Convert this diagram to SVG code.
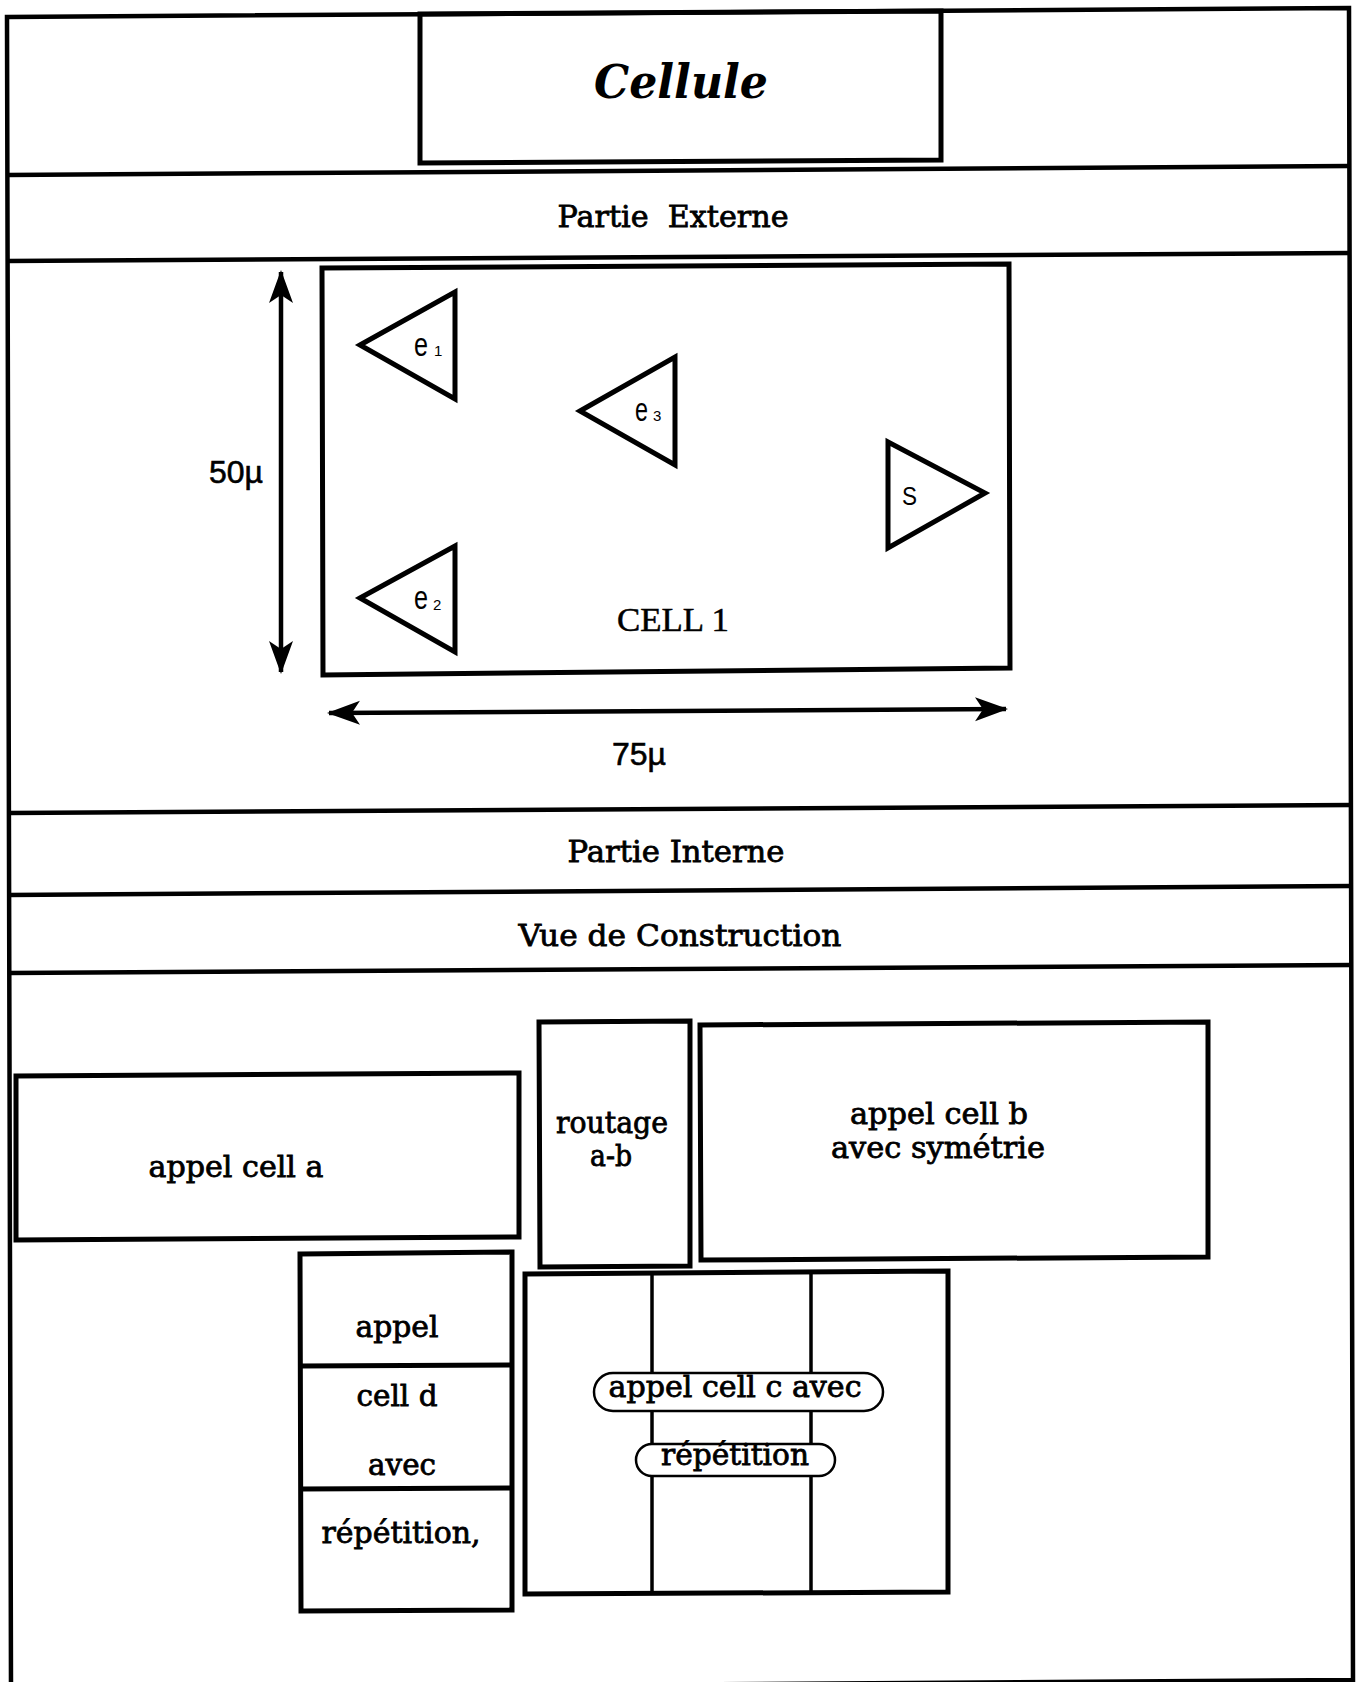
<svg xmlns="http://www.w3.org/2000/svg" width="1360" height="1682" viewBox="0 0 1360 1682">
<style>
.ln{fill:none;stroke:#000;stroke-width:5;stroke-linejoin:miter}
.fr{fill:none;stroke:#000;stroke-width:4.5}
.thin{fill:none;stroke:#000;stroke-width:3.5}
.pill{fill:#fff;stroke:#000;stroke-width:2.5}
.lbl{font-family:"DejaVu Serif","Liberation Serif",serif;font-size:30px;fill:#000;text-anchor:middle;stroke:#000;stroke-width:0.8}
.sans{font-family:"Liberation Sans","DejaVu Sans",sans-serif;fill:#000}
.sub{font-family:"Liberation Sans","DejaVu Sans",sans-serif;font-size:15px;fill:#000}
</style>
<defs>
<marker id="arr" markerUnits="userSpaceOnUse" markerWidth="36" markerHeight="28" viewBox="0 -14 36 28" refX="31" refY="0" orient="auto-start-reverse">
<path d="M0,-12 L33,0 L0,12 L8,0 Z" fill="#000"/>
</marker>
</defs>
<rect width="1360" height="1682" fill="#fff"/>

<g id="frame">
<polygon class="fr" points="7,17 1349,8 1353,1680 11,1689"/>
<line class="fr" x1="7" y1="175" x2="1350" y2="166"/>
<line class="fr" x1="7" y1="261" x2="1350" y2="253"/>
<line class="fr" x1="8" y1="813" x2="1352" y2="805"/>
<line class="fr" x1="8" y1="895" x2="1352" y2="886"/>
<line class="fr" x1="8" y1="973" x2="1352" y2="965"/>
</g>

<g id="title">
<polygon class="ln" points="420,14 941,11 941,160 420,163"/>
<text x="681" y="98" font-family="DejaVu Serif, Liberation Serif, serif" font-size="46" font-weight="bold" font-style="italic" text-anchor="middle" textLength="174" lengthAdjust="spacingAndGlyphs">Cellule</text>
</g>

<g id="partie-externe">
<text class="lbl" x="673" y="227" style="white-space:pre" textLength="231" lengthAdjust="spacingAndGlyphs">Partie  Externe</text>
</g>

<g id="cell1">
<polygon class="ln" points="322,268 1009,264 1010,668 323,675"/>
<text x="673" y="631" font-family="Liberation Serif, serif" font-size="34" text-anchor="middle" stroke="#000" stroke-width="0.5" textLength="112" lengthAdjust="spacingAndGlyphs">CELL 1</text>
</g>

<g id="e1">
<polygon class="ln" points="360,345 455,292 455,399"/>
<text class="sans" x="414" y="356" font-size="33" textLength="14" lengthAdjust="spacingAndGlyphs">e</text>
<text class="sub" x="434" y="356">1</text>
</g>
<g id="e3">
<polygon class="ln" points="580,411 675,357 675,465"/>
<text class="sans" x="635" y="421" font-size="33" textLength="13" lengthAdjust="spacingAndGlyphs">e</text>
<text class="sub" x="653" y="421">3</text>
</g>
<g id="e2">
<polygon class="ln" points="360,598 455,546 455,652"/>
<text class="sans" x="414" y="609" font-size="33" textLength="14" lengthAdjust="spacingAndGlyphs">e</text>
<text class="sub" x="433" y="610">2</text>
</g>
<g id="s">
<polygon class="ln" points="888,442 985,493 888,548"/>
<text class="sans" x="902" y="505" font-size="25" textLength="15" lengthAdjust="spacingAndGlyphs">S</text>
</g>

<g id="connectors">
<line x1="281" y1="272" x2="281" y2="672" stroke="#000" stroke-width="4.5" marker-start="url(#arr)" marker-end="url(#arr)"/>
<line x1="329" y1="713" x2="1006" y2="709" stroke="#000" stroke-width="4.5" marker-start="url(#arr)" marker-end="url(#arr)"/>
</g>

<g id="dim-50">
<text class="sans" x="209" y="483" font-size="32" stroke="#000" stroke-width="0.6" textLength="54" lengthAdjust="spacingAndGlyphs">50µ</text>
</g>
<g id="dim-75">
<text class="sans" x="612" y="765" font-size="32" stroke="#000" stroke-width="0.6" textLength="54" lengthAdjust="spacingAndGlyphs">75µ</text>
</g>

<g id="partie-interne">
<text class="lbl" x="676" y="862" textLength="217" lengthAdjust="spacingAndGlyphs">Partie Interne</text>
</g>
<g id="vue-construction">
<text class="lbl" x="680" y="946" textLength="323" lengthAdjust="spacingAndGlyphs">Vue de Construction</text>
</g>

<g id="cell-a">
<polygon class="ln" points="16,1076 519,1073 519,1237 16,1240"/>
<text class="lbl" x="236" y="1177" textLength="175" lengthAdjust="spacingAndGlyphs">appel cell a</text>
</g>

<g id="routage">
<polygon class="ln" points="539,1022 690,1021 690,1266 540,1267"/>
<text class="lbl" x="612" y="1133" textLength="112" lengthAdjust="spacingAndGlyphs">routage</text>
<text class="lbl" x="611" y="1166" textLength="42" lengthAdjust="spacingAndGlyphs">a-b</text>
</g>

<g id="cell-b">
<polygon class="ln" points="700,1025 1208,1022 1208,1257 701,1260"/>
<text class="lbl" x="939" y="1124" textLength="178" lengthAdjust="spacingAndGlyphs">appel cell b</text>
<text class="lbl" x="938" y="1158" textLength="214" lengthAdjust="spacingAndGlyphs">avec symétrie</text>
</g>

<g id="cell-d">
<polygon class="ln" points="300,1254 512,1252 512,1610 301,1611"/>
<line class="ln" x1="300" y1="1366" x2="512" y2="1365"/>
<line class="ln" x1="300" y1="1489" x2="512" y2="1488"/>
<text class="lbl" x="397" y="1337" textLength="83" lengthAdjust="spacingAndGlyphs">appel</text>
<text class="lbl" x="397" y="1406" textLength="81" lengthAdjust="spacingAndGlyphs">cell d</text>
<text class="lbl" x="402" y="1475" textLength="68" lengthAdjust="spacingAndGlyphs">avec</text>
<text class="lbl" x="401" y="1543" textLength="159" lengthAdjust="spacingAndGlyphs">répétition,</text>
</g>

<g id="cell-c">
<polygon class="ln" points="525,1274 948,1271 948,1592 525,1594"/>
<line class="thin" x1="652" y1="1273" x2="652" y2="1593"/>
<line class="thin" x1="811" y1="1272" x2="811" y2="1592"/>
<rect class="pill" x="594" y="1373" width="289" height="38" rx="19"/>
<rect class="pill" x="636" y="1444" width="199" height="32" rx="16"/>
<text class="lbl" x="735" y="1397" textLength="253" lengthAdjust="spacingAndGlyphs">appel cell c avec</text>
<text class="lbl" x="735" y="1465" textLength="148" lengthAdjust="spacingAndGlyphs">répétition</text>
</g>
</svg>
